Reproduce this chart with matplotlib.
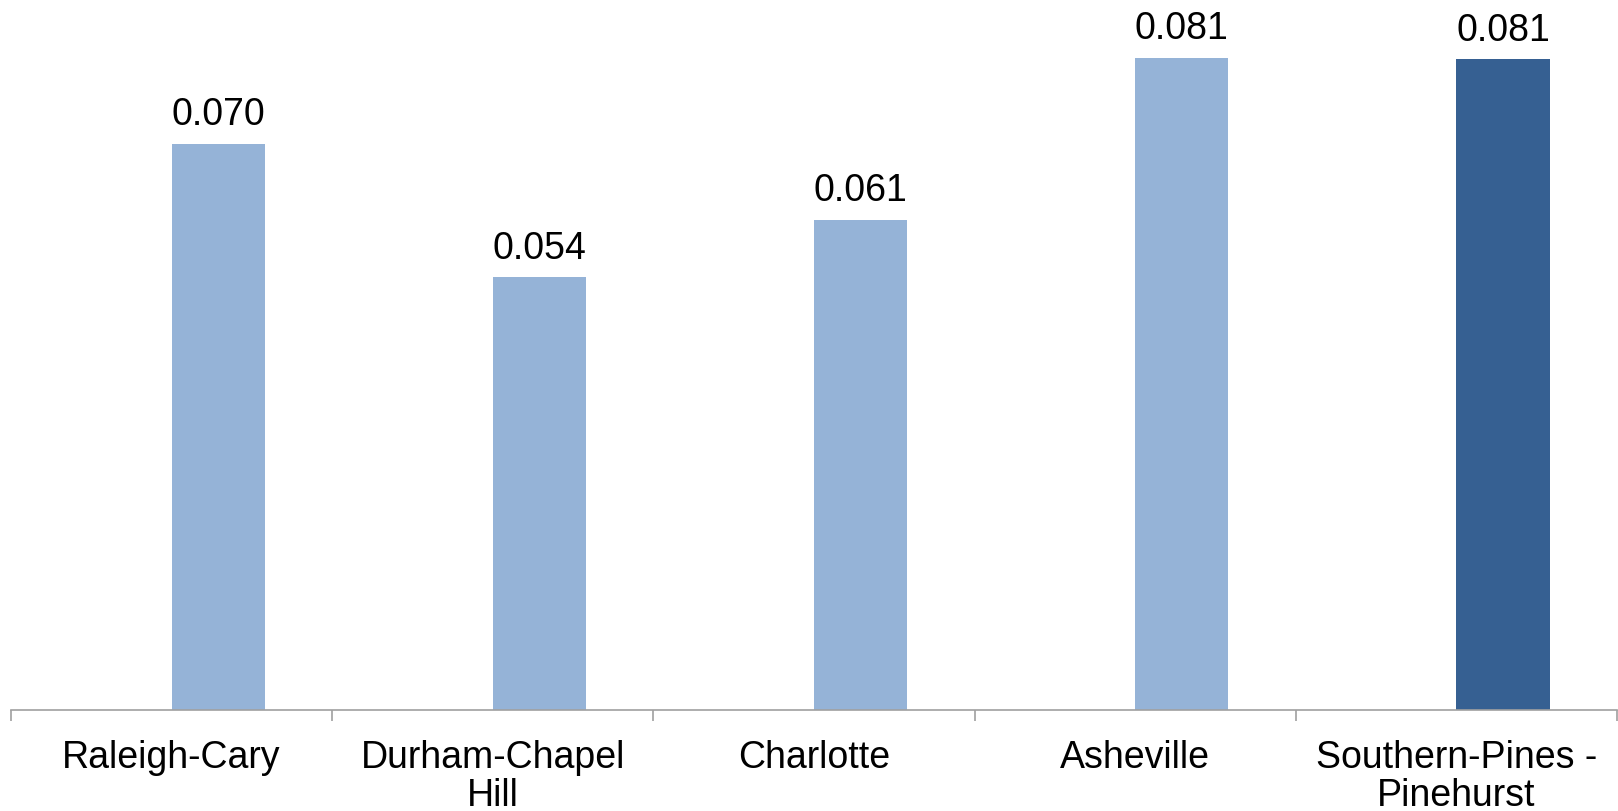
import matplotlib
matplotlib.use("Agg")
import matplotlib.pyplot as plt
import numpy as np

# data
cities = ["Raleigh-Cary", "Durham-Chapel\nHill", "Charlotte", "Asheville", "Southern-Pines -\nPinehurst"]
values = [0.0705, 0.0539, 0.0610, 0.0812, 0.0810]
value_labels = ["0.070", "0.054", "0.061", "0.081", "0.081"]
bar_colors = ["#95B3D7", "#95B3D7", "#95B3D7", "#95B3D7", "#366092"]

plt.rcParams['font.family'] = ['Liberation Sans', 'DejaVu Sans']

fig = plt.figure(figsize=(16.18, 8.12), dpi=100)
ax = fig.add_axes([11 / 1618, 101 / 812, 1606 / 1618, 711 / 812])

x = np.arange(len(cities))
bars = ax.bar(x, values, width=0.29, align="edge", color=bar_colors, zorder=2)

for b, lab in zip(bars, value_labels):
    ax.annotate(lab, (b.get_x() + b.get_width() / 2, b.get_height()),
                xytext=(0, 14), textcoords="offset points",
                ha="center", va="baseline", fontsize=27)

ax.set_xlim(-0.5, len(cities) - 0.5)
ax.set_ylim(0, 0.0885)

for s in ["top", "right", "left"]:
    ax.spines[s].set_visible(False)
ax.spines["bottom"].set_color("#A0A0A0")
ax.spines["bottom"].set_linewidth(1.2)

ax.set_yticks([])
ax.set_xticks(x)
ax.set_xticklabels(cities, fontsize=27, linespacing=1.07)
ax.tick_params(axis="x", which="major", length=0, pad=21)
ax.set_xticks(np.arange(-0.5, len(cities)), minor=True)
ax.tick_params(axis="x", which="minor", length=8, width=1.2, color="#A0A0A0")

fig.savefig("out.png", dpi=100)
